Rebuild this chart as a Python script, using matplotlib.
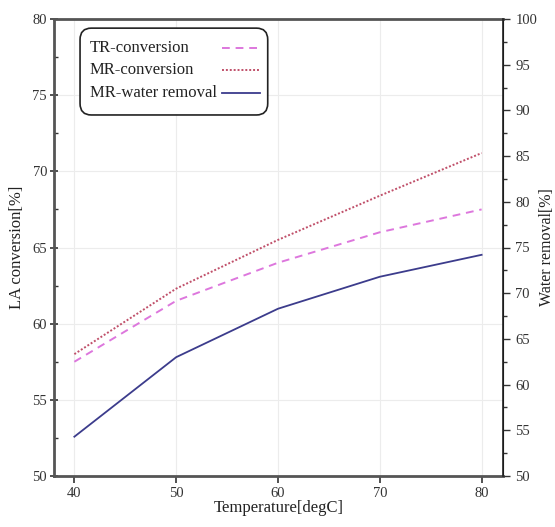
import numpy as np
import matplotlib.pyplot as plt
from matplotlib.ticker import MultipleLocator
from matplotlib.lines import Line2D
from matplotlib.patches import FancyBboxPatch

# data
temperature = [40, 50, 60, 70, 80]
tr_conversion = [57.5, 61.5, 64.0, 66.0, 67.5]
mr_conversion = [58.0, 62.3, 65.5, 68.4, 71.2]
mr_water_removal = [54.3, 63.0, 68.3, 71.8, 74.2]

x_ticks = [40, 50, 60, 70, 80]
legend_labels = ['TR-conversion', 'MR-conversion', 'MR-water removal']

plt.rcParams['font.family'] = ['Liberation Serif', 'DejaVu Serif']
plt.rcParams['font.size'] = 10.5

fig = plt.figure(figsize=(5.55, 5.27), dpi=100)
ax = fig.add_axes([54 / 555, 1 - 476 / 527, (503 - 54) / 555, (476 - 19) / 527])
ax2 = ax.twinx()

styles = [dict(linestyle=(0, (4, 3)), color='#dd77dd', lw=1.4),
          dict(linestyle=(0, (1, 1)), color='#c0506a', lw=1.4),
          dict(linestyle='-', color='#3c3c8c', lw=1.3)]

ax.plot(temperature, tr_conversion, **styles[0])
ax.plot(temperature, mr_conversion, **styles[1])
ax2.plot(temperature, mr_water_removal, **styles[2])

ax.set_xlim(38.0, 82.1)
ax.set_ylim(50, 80)
ax2.set_ylim(50, 100)
ax.set_xticks(x_ticks)
ax.yaxis.set_major_locator(MultipleLocator(5))
ax.yaxis.set_minor_locator(MultipleLocator(2.5))
ax2.yaxis.set_major_locator(MultipleLocator(5))
ax2.yaxis.set_minor_locator(MultipleLocator(2.5))

ax.grid(True, color='#ececec', lw=0.8)
ax.set_axisbelow(True)

for name in ['left', 'bottom', 'top']:
    ax.spines[name].set_linewidth(2.0)
    ax.spines[name].set_color('#555555')
ax2.spines['right'].set_linewidth(1.2)
ax2.spines['right'].set_color('#222222')
for name in ['left', 'bottom', 'top']:
    ax2.spines[name].set_visible(False)

ax.tick_params(axis='x', direction='out', length=5, width=1.2, colors='#333333', pad=3)
ax.tick_params(axis='y', which='major', direction='inout', length=6, width=1.2, colors='#333333', pad=2)
ax.tick_params(axis='y', which='minor', direction='in', length=3, width=1.0, colors='#333333')
ax2.tick_params(axis='y', which='major', direction='out', length=5, width=1.0, colors='#333333', pad=4)
ax2.tick_params(axis='y', which='minor', direction='out', length=3, width=1.0, colors='#333333')

ax.set_xlabel('Temperature[degC]', fontsize=12, labelpad=0, color='#222222')
ax.set_ylabel('LA conversion[%]', fontsize=12, labelpad=5, color='#222222')
ax2.set_ylabel('Water removal[%]', fontsize=11.5, labelpad=1, color='#222222')

# legend drawn by hand: text left-aligned, handles on the right
box = FancyBboxPatch((0.058, 0.79), 0.418, 0.19, transform=ax.transAxes,
                     boxstyle='round,pad=0,rounding_size=0.025', mutation_aspect=1.0,
                     facecolor='white', edgecolor='#222222', lw=1.2, zorder=5)
ax.add_patch(box)
rows_y = [0.9365, 0.888, 0.838]
for label, st, yy in zip(legend_labels, styles, rows_y):
    ax.text(0.080, yy, label, transform=ax.transAxes, fontsize=12, va='center', ha='left',
            color='#222222', zorder=6)
    ax.add_line(Line2D([0.374, 0.459], [yy, yy], transform=ax.transAxes, zorder=6, **st))

fig.savefig('out.png', dpi=100)
